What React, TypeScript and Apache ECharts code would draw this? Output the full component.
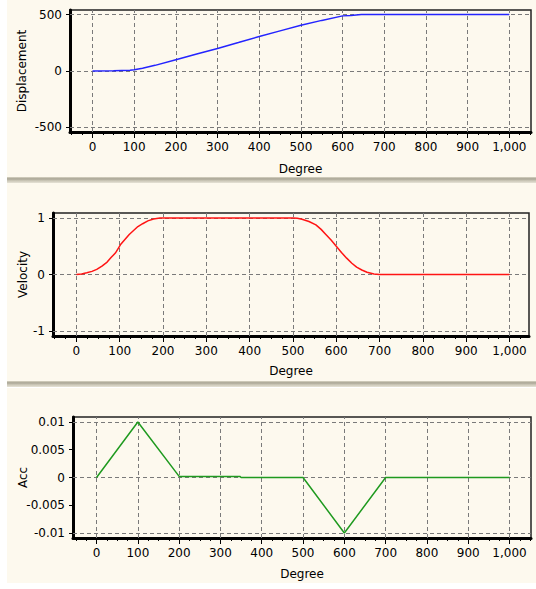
import React, { useEffect, useRef } from "react";
import * as echarts from "echarts";

const majorDeg = [0, 100, 200, 300, 400, 500, 600, 700, 800, 900, 1000];
const minorDeg = [-50, -25, 0, 25, 50, 75, 100, 125, 150, 175, 200, 225, 250, 275, 300, 325, 350, 375, 400, 425, 450, 475, 500, 525, 550, 575, 600, 625, 650, 675, 700, 725, 750, 775, 800, 825, 850, 875, 900, 925, 950, 975, 1000, 1025, 1050];

const dispDeg = [0, 50, 90, 100, 120, 150, 200, 250, 300, 350, 400, 450, 500, 550, 600, 620, 645, 1000];
const dispVal = [0, 3, 6, 12, 25, 50, 100, 150, 200, 252, 305, 355, 405, 448, 488, 492, 500, 500];
const dispTicks = [-500, 0, 500];

const velDeg = [0, 12, 24, 36, 47, 59, 71, 80, 90, 102, 112, 122, 132, 142, 153, 165, 178, 193, 200, 500, 510, 521, 537, 553, 565, 576, 588, 600, 612, 624, 636, 647, 659, 671, 687, 700, 1000];
const velVal = [0, 0.01, 0.03, 0.055, 0.09, 0.15, 0.22, 0.3, 0.38, 0.53, 0.62, 0.71, 0.78, 0.85, 0.9, 0.95, 0.985, 1.0, 1.0, 1.0, 0.995, 0.98, 0.94, 0.88, 0.8, 0.71, 0.61, 0.5, 0.39, 0.29, 0.2, 0.13, 0.08, 0.04, 0.01, 0, 0];
const velTicks = [-1, 0, 1];

const accDeg = [0, 100, 200, 347, 350, 500, 600, 700, 1000];
const accVal = [0, 0.01, 0.0002, 0.0002, 0, 0, -0.01, 0, 0];
const accTicks = [-0.01, -0.005, 0, 0.005, 0.01];

const FONT = "DejaVu Sans";
const CREAM = "#fdf9ee";

export default function App() {
  const ref = useRef<HTMLDivElement>(null);
  useEffect(() => {
    if (!ref.current) return;
    const chart = echarts.init(ref.current, undefined, { renderer: "svg" });

    const grids = [
      { left: 70, top: 10, right: 5, height: 122 },
      { left: 53, top: 213, right: 7, height: 123 },
      { left: 73, top: 417, right: 5, height: 121 },
    ];
    const yCfg = [
      { name: "Displacement", min: -540, max: 540, ticks: dispTicks, gap: 42 },
      { name: "Velocity", min: -1.09, max: 1.09, ticks: velTicks, gap: 24 },
      { name: "Acc", min: -0.0109, max: 0.0109, ticks: accTicks, gap: 44 },
    ];
    const xMin = [-54, -54, -57];
    const xMax = [1052, 1045, 1052];
    const xGap = [31, 29, 30];
    const lines = [
      { x: dispDeg, y: dispVal, color: "#2424ff" },
      { x: velDeg, y: velVal, color: "#ff1414" },
      { x: accDeg, y: accVal, color: "#1f9a1f" },
    ];

    const xAxis: any[] = [];
    const yAxis: any[] = [];
    const series: any[] = [];
    const textStyle = { fontFamily: FONT, fontSize: 12, color: "#000" };

    grids.forEach((g, i) => {
      xAxis.push({
        type: "value",
        gridIndex: i,
        min: xMin[i],
        max: xMax[i],
        position: "bottom",
        name: "Degree",
        nameLocation: "middle",
        nameGap: xGap[i],
        nameMoveOverlap: false,
        nameTextStyle: textStyle,
        axisLine: { show: true, onZero: false, lineStyle: { color: "#000", width: 3 } },
        axisTick: { show: true, customValues: majorDeg, length: 6, lineStyle: { color: "#000", width: 1 } },
        axisLabel: {
          customValues: majorDeg,
          margin: 9,
          ...textStyle,
          formatter: (v: number) => v.toLocaleString("en-US"),
        },
        splitLine: { show: false },
      });
      xAxis.push({
        type: "value",
        gridIndex: i,
        min: xMin[i],
        max: xMax[i],
        position: "bottom",
        axisLine: { show: false, onZero: false },
        axisTick: { show: true, customValues: minorDeg, length: 3, lineStyle: { color: "#000", width: 1 } },
        axisLabel: { show: false },
        splitLine: { show: false },
      });
      const yc = yCfg[i];
      yAxis.push({
        type: "value",
        gridIndex: i,
        min: yc.min,
        max: yc.max,
        position: "left",
        name: yc.name,
        nameLocation: "middle",
        nameGap: yc.gap,
        nameRotate: 90,
        nameMoveOverlap: false,
        nameTextStyle: textStyle,
        axisLine: { show: true, onZero: false, lineStyle: { color: "#000", width: 3 } },
        axisTick: { show: true, customValues: yc.ticks, length: 4, lineStyle: { color: "#000", width: 1 } },
        axisLabel: {
          customValues: yc.ticks,
          margin: 8,
          ...textStyle,
          formatter: (v: number) => String(v),
        },
        splitLine: { show: false },
      });

      // dashed grid lines
      series.push({
        type: "line",
        xAxisIndex: i * 2,
        yAxisIndex: i,
        data: [],
        z: 1,
        silent: true,
        markLine: {
          silent: true,
          symbol: ["none", "none"],
          label: { show: false },
          animation: false,
          lineStyle: { type: [4, 3], color: "#7a7a7a", width: 1 },
          data: [
            ...majorDeg.map((d) => ({ xAxis: d })),
            ...yc.ticks.map((t) => ({ yAxis: t })),
          ],
        },
      });
      const L = lines[i];
      series.push({
        type: "line",
        xAxisIndex: i * 2,
        yAxisIndex: i,
        z: 5,
        symbol: "none",
        lineStyle: { color: L.color, width: 1.5 },
        data: L.x.map((d, k) => [d, L.y[k]]),
      });
    });

    const bandGrad = {
      type: "linear",
      x: 0, y: 0, x2: 0, y2: 1,
      colorStops: [
        { offset: 0, color: "#d9d5c5" },
        { offset: 0.3, color: "#a9a594" },
        { offset: 0.6, color: "#c9c5b5" },
        { offset: 1, color: "#e6e3d6" },
      ],
    };

    chart.setOption({
      animation: false,
      backgroundColor: "#ffffff",
      graphic: [
        { type: "rect", z: -10, shape: { x: 7, y: 0, width: 529, height: 177 }, style: { fill: CREAM } },
        { type: "rect", z: -10, shape: { x: 7, y: 177, width: 529, height: 6 }, style: { fill: bandGrad } },
        { type: "rect", z: -10, shape: { x: 7, y: 183, width: 529, height: 198 }, style: { fill: CREAM } },
        { type: "rect", z: -10, shape: { x: 7, y: 381, width: 529, height: 6 }, style: { fill: bandGrad } },
        { type: "rect", z: -10, shape: { x: 7, y: 388, width: 529, height: 195 }, style: { fill: CREAM } },
      ],
      grid: grids.map((g) => ({
        ...g,
        show: true,
        backgroundColor: CREAM,
        borderColor: "#222",
        borderWidth: 1.5,
        containLabel: false,
      })),
      xAxis,
      yAxis,
      series,
    });
    return () => chart.dispose();
  }, []);
  return (
    <div
      ref={ref}
      style={{ position: "absolute", left: 0, top: 0, width: 536, height: 589 }}
    />
  );
}
